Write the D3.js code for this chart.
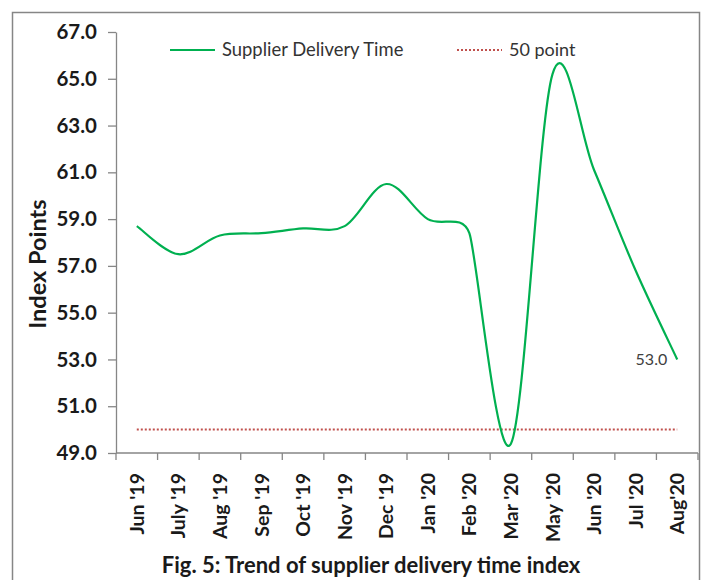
<!DOCTYPE html>
<html>
<head>
<meta charset="utf-8">
<script src="https://cdn.jsdelivr.net/npm/d3@7"></script>
<style>
  html, body { margin: 0; padding: 0; background: #fff; }
  svg { display: block; }
</style>
</head>
<body>
<svg id="chart" width="703" height="580"></svg>
<script>
const categories = ["Jun '19", "July '19", "Aug '19", "Sep '19", "Oct '19", "Nov '19", "Dec '19",
                    "Jan '20", "Feb '20", "Mar '20", "May '20", "Jun '20", "Jul '20", "Aug'20"];
const supplierDelivery = [58.7, 57.5, 58.3, 58.4, 58.6, 58.7, 60.5, 59.0, 58.4, 49.4, 65.2, 61.1, 56.8, 53.0];
const fiftyPoint = [50, 50, 50, 50, 50, 50, 50, 50, 50, 50, 50, 50, 50, 50];
const yTicks = [49, 51, 53, 55, 57, 59, 61, 63, 65, 67];
const seriesNames = ["Supplier Delivery Time", "50 point"];
const titleText = "Fig. 5: Trend of supplier delivery time index";
const yTitle = "Index Points";

// Excel-like smoothed line: Bezier with tangent (P[i+1]-P[i-1]) * f,
// f = min(1/6, d01/(2*d02), d12/(2*d02))
function curveExcelSmooth(context) {
  let pts = [];
  return {
    areaStart() {}, areaEnd() {},
    lineStart() { pts = []; },
    point(x, y) { pts.push([+x, +y]); },
    lineEnd() {
      const n = pts.length;
      if (!n) return;
      context.moveTo(pts[0][0], pts[0][1]);
      if (n === 1) return;
      const dist = (a, b) => Math.hypot(a[0] - b[0], a[1] - b[1]);
      const arms = pts.map((p, i) => {
        const p0 = pts[Math.max(0, i - 1)], p2 = pts[Math.min(n - 1, i + 1)];
        const tx = p2[0] - p0[0], ty = p2[1] - p0[1];
        const d02 = Math.hypot(tx, ty);
        let f = 1 / 6;
        if (i > 0 && i < n - 1 && d02 > 0) {
          f = Math.min(f, dist(p0, p) / (2 * d02), dist(p, p2) / (2 * d02));
        }
        return [tx * f, ty * f];
      });
      for (let i = 0; i < n - 1; i++) {
        const a = pts[i], b = pts[i + 1];
        context.bezierCurveTo(a[0] + arms[i][0], a[1] + arms[i][1],
                              b[0] - arms[i + 1][0], b[1] - arms[i + 1][1],
                              b[0], b[1]);
      }
    }
  };
}

const svg = d3.select("#chart");
const W = 703, H = 580;
const plot = { left: 116, right: 698, top: 32, bottom: 453 };
const axisColor = "#868686";
const green = "#00B050";
const red = "#C0504D";
const font = "Lato, 'Open Sans', sans-serif";

svg.append("rect").attr("width", W).attr("height", H).attr("fill", "#fff");
// outer chart border
svg.append("rect")
  .attr("x", 12.5).attr("y", 12.5).attr("width", 687).attr("height", 620)
  .attr("fill", "none").attr("stroke", axisColor).attr("stroke-width", 1.5);

const x = d3.scaleBand().domain(categories).range([plot.left, plot.right]).padding(0);
const y = d3.scaleLinear().domain([49, 67]).range([plot.bottom, plot.top]);
const cx = d => x(d) + x.bandwidth() / 2;

// Y axis
const yAxis = svg.append("g")
  .attr("transform", `translate(${plot.left},0)`)
  .call(d3.axisLeft(y).tickValues(yTicks).tickFormat(d3.format(".1f")).tickSize(8).tickSizeOuter(0).tickPadding(11));
yAxis.select(".domain").attr("stroke", axisColor).attr("stroke-width", 1.3);
yAxis.selectAll(".tick line").attr("stroke", axisColor).attr("stroke-width", 1.3);
yAxis.selectAll(".tick text")
  .attr("font-family", font).attr("font-weight", "bold").attr("font-size", 20.5)
  .attr("fill", "#1a1a1a");

// X axis: ticks on category boundaries, labels at centres
const xAxisG = svg.append("g").attr("transform", `translate(0,${plot.bottom})`);
xAxisG.append("line")
  .attr("x1", plot.left).attr("x2", plot.right)
  .attr("stroke", axisColor).attr("stroke-width", 1.3);
const boundaries = categories.map(c => x(c)).concat([x(categories[categories.length - 1]) + x.bandwidth()]);
xAxisG.selectAll(".xtick").data(boundaries).join("line")
  .attr("class", "xtick")
  .attr("x1", d => d).attr("x2", d => d).attr("y1", 0).attr("y2", 7)
  .attr("stroke", axisColor).attr("stroke-width", 1.3);
xAxisG.selectAll(".xlabel").data(categories).join("text")
  .attr("class", "xlabel")
  .attr("transform", d => `translate(${cx(d) + 7},20) rotate(-90)`)
  .attr("text-anchor", "end")
  .attr("font-family", font).attr("font-weight", "bold").attr("font-size", 19.5)
  .attr("fill", "#1a1a1a")
  .text(d => d);

// 50 point dotted line
const line = d3.line().x((d, i) => cx(categories[i])).y(d => y(d));
svg.append("path")
  .datum(fiftyPoint)
  .attr("d", line)
  .attr("fill", "none").attr("stroke", red).attr("stroke-width", 2)
  .attr("stroke-dasharray", "2,2");

// Supplier delivery time (smoothed)
const smooth = d3.line().x((d, i) => cx(categories[i])).y(d => y(d)).curve(curveExcelSmooth);
svg.append("path")
  .datum(supplierDelivery)
  .attr("d", smooth)
  .attr("fill", "none").attr("stroke", green).attr("stroke-width", 2.2);

// Data label on last point
const lastI = supplierDelivery.length - 1;
svg.append("text")
  .attr("x", cx(categories[lastI]) - 10).attr("y", y(supplierDelivery[lastI]) + 6)
  .attr("text-anchor", "end")
  .attr("font-family", font).attr("font-size", 16).attr("fill", "#404040")
  .text(supplierDelivery[lastI].toFixed(1));

// Legend
const legend = svg.append("g");
legend.append("line").attr("x1", 170).attr("x2", 215).attr("y1", 50).attr("y2", 50)
  .attr("stroke", green).attr("stroke-width", 2.2);
legend.append("text").attr("x", 222).attr("y", 56)
  .attr("font-family", font).attr("font-size", 18.4).attr("fill", "#333")
  .text(seriesNames[0]);
legend.append("line").attr("x1", 457).attr("x2", 502).attr("y1", 50).attr("y2", 50)
  .attr("stroke", red).attr("stroke-width", 2).attr("stroke-dasharray", "2,2");
legend.append("text").attr("x", 509).attr("y", 56)
  .attr("font-family", font).attr("font-size", 18).attr("fill", "#333")
  .text(seriesNames[1]);

// Y axis title
svg.append("text")
  .attr("transform", "translate(46,264) rotate(-90)")
  .attr("text-anchor", "middle")
  .attr("font-family", font).attr("font-weight", "bold").attr("font-size", 23.5)
  .attr("fill", "#1a1a1a")
  .text(yTitle);

// Figure caption
svg.append("text")
  .attr("x", 371).attr("y", 573)
  .attr("text-anchor", "middle")
  .attr("font-family", font).attr("font-weight", "bold").attr("font-size", 22)
  .attr("fill", "#1a1a1a")
  .text(titleText);
</script>
</body>
</html>
